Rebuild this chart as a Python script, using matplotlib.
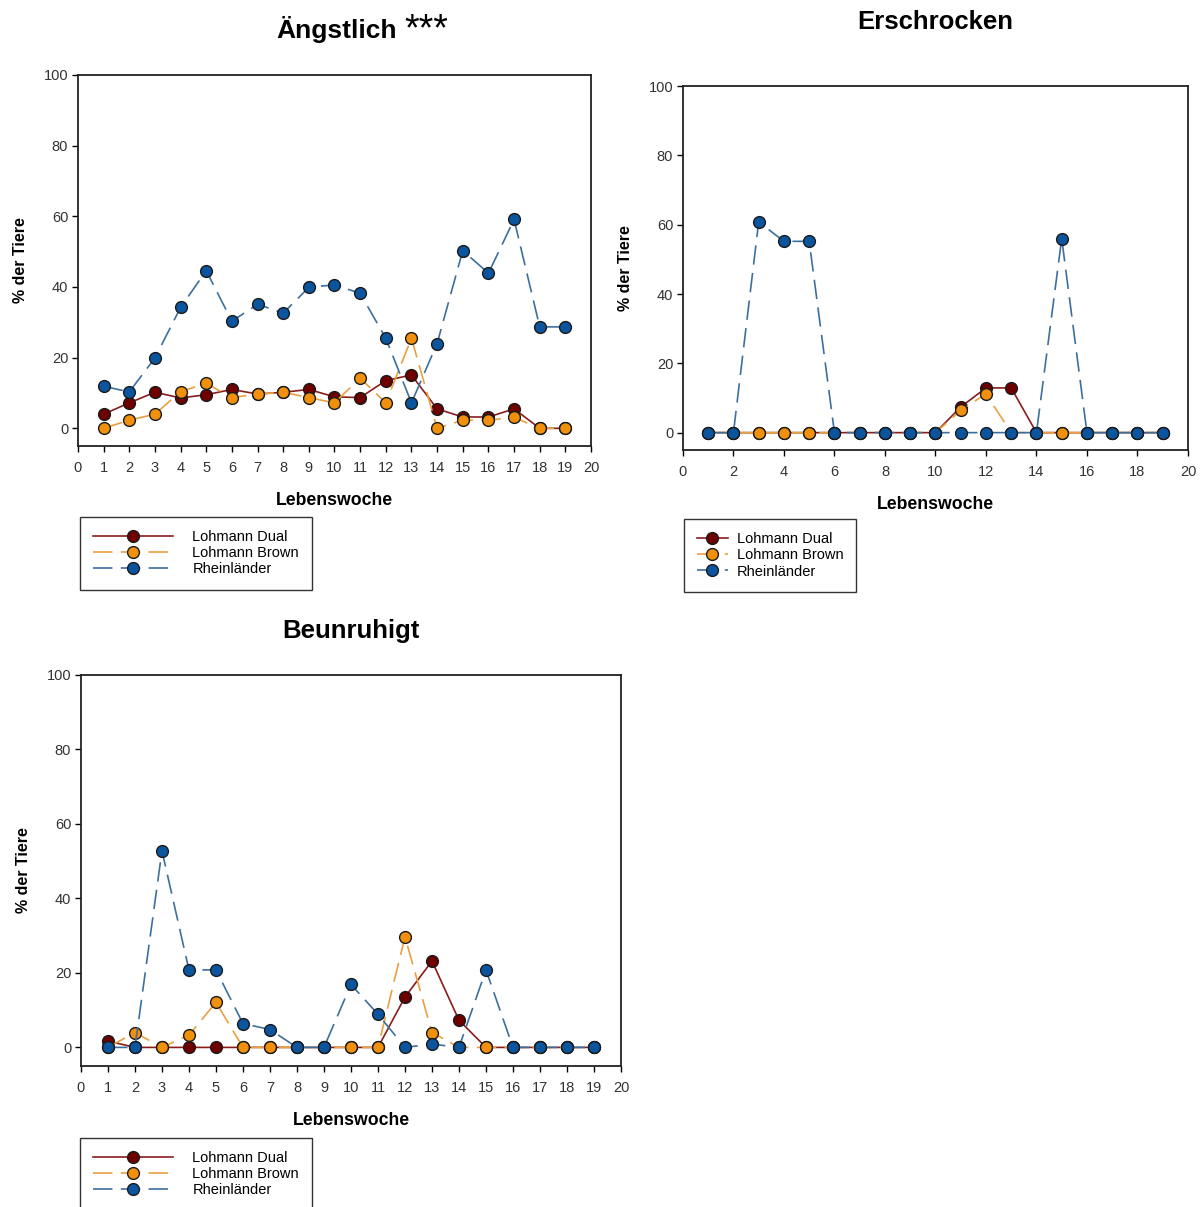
import matplotlib.pyplot as plt

plt.rcParams['font.family'] = ['Liberation Sans', 'DejaVu Sans']
plt.rcParams['lines.scale_dashes'] = False

weeks = list(range(1, 20))

# Ängstlich
angst_dual = [4.0, 7.2, 10.2, 8.6, 9.5, 11.0, 9.7, 10.2, 11.0, 8.9, 8.7, 13.5, 15.1, 5.5, 3.2, 3.2, 5.5, 0, 0]
angst_brown = [0, 2.3, 4.0, 10.4, 12.7, 8.7, 9.7, 10.2, 8.7, 7.2, 14.2, 7.2, 25.5, 0, 2.3, 2.3, 3.1, 0, 0]
angst_rhein = [11.9, 10.3, 19.9, 34.2, 44.6, 30.3, 35.1, 32.6, 39.9, 40.6, 38.2, 25.5, 7.2, 24.0, 50.3, 43.9, 59.1, 28.7, 28.7]

# Erschrocken
ersch_dual = [0, 0, 0, 0, 0, 0, 0, 0, 0, 0, 7.4, 12.9, 12.9, 0, 0, 0, 0, 0, 0]
ersch_brown = [0, 0, 0, 0, 0, 0, 0, 0, 0, 0, 6.4, 11.2, 0, 0, 0, 0, 0, 0, 0]
ersch_rhein = [0, 0, 60.8, 55.2, 55.2, 0, 0, 0, 0, 0, 0, 0, 0, 0, 56.0, 0, 0, 0, 0]

# Beunruhigt
beun_dual = [1.7, 0, 0, 0, 0, 0, 0, 0, 0, 0, 0, 13.5, 23.2, 7.3, 0, 0, 0, 0, 0]
beun_brown = [0, 4.0, 0, 3.3, 12.1, 0, 0, 0, 0, 0, 0, 29.7, 4.0, 0, 0, 0, 0, 0, 0]
beun_rhein = [0, 0, 52.8, 20.8, 20.8, 6.4, 4.8, 0, 0, 16.9, 8.9, 0, 0.9, 0, 20.8, 0, 0, 0, 0]

series_names = ['Lohmann Dual', 'Lohmann Brown', 'Rheinländer']


def draw_panel(ax, dual, brown, rhein, xstep, leg_anchor, handlelength, handletextpad):
    ax.plot(weeks, dual, '-', color='#8a1c1c', lw=1.2, marker='o', ms=8.5,
            mfc='#6e0000', mec='#1a1a1a', mew=1, label=series_names[0])
    ax.plot(weeks, brown, color='#e8a040', lw=1.2, dashes=(14, 6), marker='o', ms=8.5,
            mfc='#f0900c', mec='#1a1a1a', mew=1, label=series_names[1])
    ax.plot(weeks, rhein, color='#3d6f9e', lw=1.2, dashes=(14, 6), marker='o', ms=8.5,
            mfc='#0b559f', mec='#1a1a1a', mew=1, label=series_names[2])
    ax.set_xlim(0, 20)
    ax.set_ylim(-5, 100)
    ax.set_xticks(range(0, 21, xstep))
    ax.set_yticks(range(0, 101, 20))
    ax.tick_params(direction='out', length=4, width=1, labelsize=10.5,
                   labelcolor='#333333', pad=3)
    ax.tick_params(axis='x', pad=6.5)
    for s in ax.spines.values():
        s.set_linewidth(1.3)
        s.set_color('#222222')
    ax.set_xlabel('Lebenswoche', fontsize=12.7, fontweight='bold', labelpad=12.5)
    ax.set_ylabel('% der Tiere', fontsize=11.5, fontweight='bold', labelpad=11)
    leg = ax.legend(loc='upper left', bbox_to_anchor=leg_anchor, bbox_transform=fig.transFigure,
                    fontsize=10.5, frameon=True, fancybox=False, framealpha=1,
                    edgecolor='#333333', handlelength=handlelength, borderaxespad=0,
                    handletextpad=handletextpad, labelspacing=0.15, borderpad=0.9)
    leg.get_frame().set_linewidth(1.0)


fig = plt.figure(figsize=(12.03, 12.07), dpi=100)

ax1 = fig.add_axes([0.0648, 0.6305, 0.4265, 0.3074])
draw_panel(ax1, angst_dual, angst_brown, angst_rhein, 1, (0.0665, 0.5717), 5.5, 1.3)

ax2 = fig.add_axes([0.5677, 0.6272, 0.4198, 0.3015])
draw_panel(ax2, ersch_dual, ersch_brown, ersch_rhein, 2, (0.5686, 0.570), 2.1, 0.6)

ax3 = fig.add_axes([0.0673, 0.1168, 0.4489, 0.3240])
draw_panel(ax3, beun_dual, beun_brown, beun_rhein, 1, (0.0665, 0.0572), 5.5, 1.3)

fig.text(337 / 1203, 1 - 38 / 1207, 'Ängstlich', ha='center', va='baseline',
         fontsize=19, fontweight='bold')
fig.text(404 / 1203, 1 - 40 / 1207, '***', ha='left', va='baseline', fontsize=27)
fig.text(935 / 1203, 1 - 29 / 1207, 'Erschrocken', ha='center', va='baseline',
         fontsize=18.5, fontweight='bold')
fig.text(351 / 1203, 1 - 638 / 1207, 'Beunruhigt', ha='center', va='baseline',
         fontsize=18.5, fontweight='bold')

fig.savefig('out.png', dpi=100)
